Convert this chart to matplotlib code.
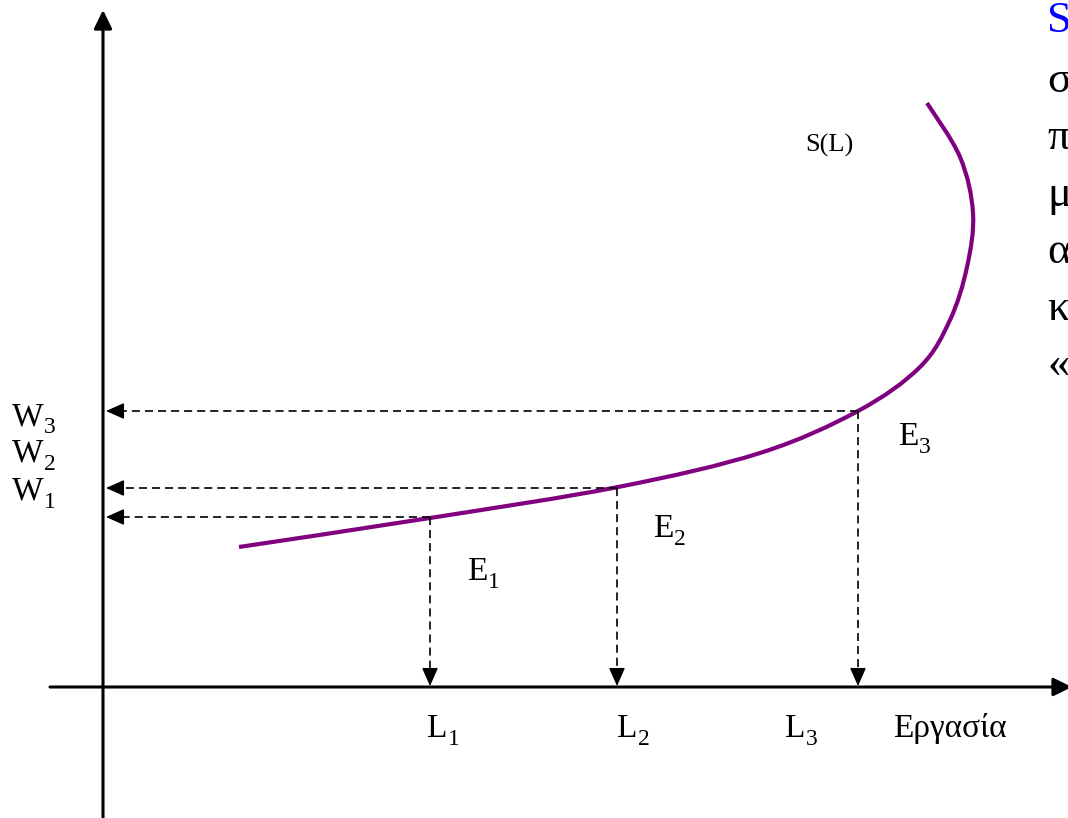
import numpy as np
import matplotlib
matplotlib.use('Agg')
import matplotlib.pyplot as plt
from matplotlib.path import Path
from matplotlib.patches import PathPatch

# labour supply curve S(L) (origin = axes crossing)
curve_L = [136, 327, 515, 657, 755, 817, 847, 864, 870, 857, 824]
curve_W = [140, 169, 200, 234, 276, 320, 367, 420, 474, 530, 584]

# equilibrium points E1..E3
eq_L = [327, 514, 755]
eq_W = [170, 199, 276]
eq_names = ['1', '2', '3']

# cut-off text on the right edge
side_chars = ['σ', 'π', 'μ', 'α', 'κ', '«']

plt.rcParams['font.family'] = ['Liberation Serif', 'DejaVu Serif']
plt.rcParams['lines.scale_dashes'] = False

fig = plt.figure(figsize=(10.68, 8.18), dpi=100)
ax = fig.add_axes([0, 0, 1, 1])
ax.set_xlim(-103, 965)
ax.set_ylim(-131, 687)
ax.axis('off')

# axes with arrow heads
axis_arrow = dict(arrowstyle='-|>,head_length=0.45,head_width=0.22', lw=2.2,
                  color='black', mutation_scale=25, shrinkA=0, shrinkB=0)
ax.annotate('', xy=(0, 677), xytext=(0, -131), arrowprops=axis_arrow,
            annotation_clip=False)
ax.annotate('', xy=(969, 0), xytext=(-53, 0), arrowprops=axis_arrow,
            annotation_clip=False)

# dashed guides with solid heads
head = dict(arrowstyle='-|>,head_length=0.45,head_width=0.2', lw=1.0,
            color='black', mutation_scale=25, shrinkA=0, shrinkB=0)
for L, W in zip(eq_L, eq_W):
    ax.plot([L, 14], [W, W], color='black', lw=1.2, dashes=(5.8, 3.6))
    ax.annotate('', xy=(3, W), xytext=(16, W), arrowprops=head)
    ax.plot([L, L], [W, 12], color='black', lw=1.2, dashes=(5.8, 3.6))
    ax.annotate('', xy=(L, 1), xytext=(L, 14), arrowprops=head)

# supply curve, drawn smooth through the read points (Catmull-Rom -> Bezier)
P = np.column_stack([curve_L, curve_W]).astype(float)
verts = [P[0]]
codes = [Path.MOVETO]
for i in range(len(P) - 1):
    p0 = P[max(i - 1, 0)]
    p1, p2 = P[i], P[i + 1]
    p3 = P[min(i + 2, len(P) - 1)]
    verts += [p1 + (p2 - p0) / 6, p2 - (p3 - p1) / 6, p2]
    codes += [Path.CURVE4] * 3
ax.add_patch(PathPatch(Path(verts, codes), fill=False, edgecolor='#800080',
                       lw=3, capstyle='butt'))

fs, fs_sub = 24, 17


def label(x, y, main, sub):
    t = ax.text(x, y, main, fontsize=fs, ha='left', va='baseline')
    ax.annotate(sub, xy=(1, 0), xycoords=t, xytext=(0.5, -1),
                textcoords='offset points', fontsize=fs_sub,
                ha='left', va='baseline')


ax.text(702, 535, 'S(L)', fontsize=19, ha='left', va='baseline')

# wage labels
for i, yb in zip(['3', '2', '1'], [262, 225, 187]):
    label(-91, yb, 'W', i)

# equilibrium labels
for name, (xl, yb) in zip(eq_names, [(364, 107), (550, 150), (795, 242)]):
    label(xl, yb, 'E', name)

# labour labels
for name, xl in zip(eq_names, [324, 514, 682]):
    label(xl, -50, 'L', name)
ax.text(790, -50, 'Εργασία', fontsize=fs, ha='left', va='baseline')

# right-hand text, cut by the figure edge
fig.text(1047 / 1068, 1 - 32 / 818, 'S', fontsize=32, color='#0000ff',
         ha='left', va='baseline')
for k, ch in enumerate(side_chars):
    fig.text(1047 / 1068, 1 - (92 + 57 * k) / 818, ch, fontsize=32,
             ha='left', va='baseline')

fig.savefig('out.png', dpi=100)
